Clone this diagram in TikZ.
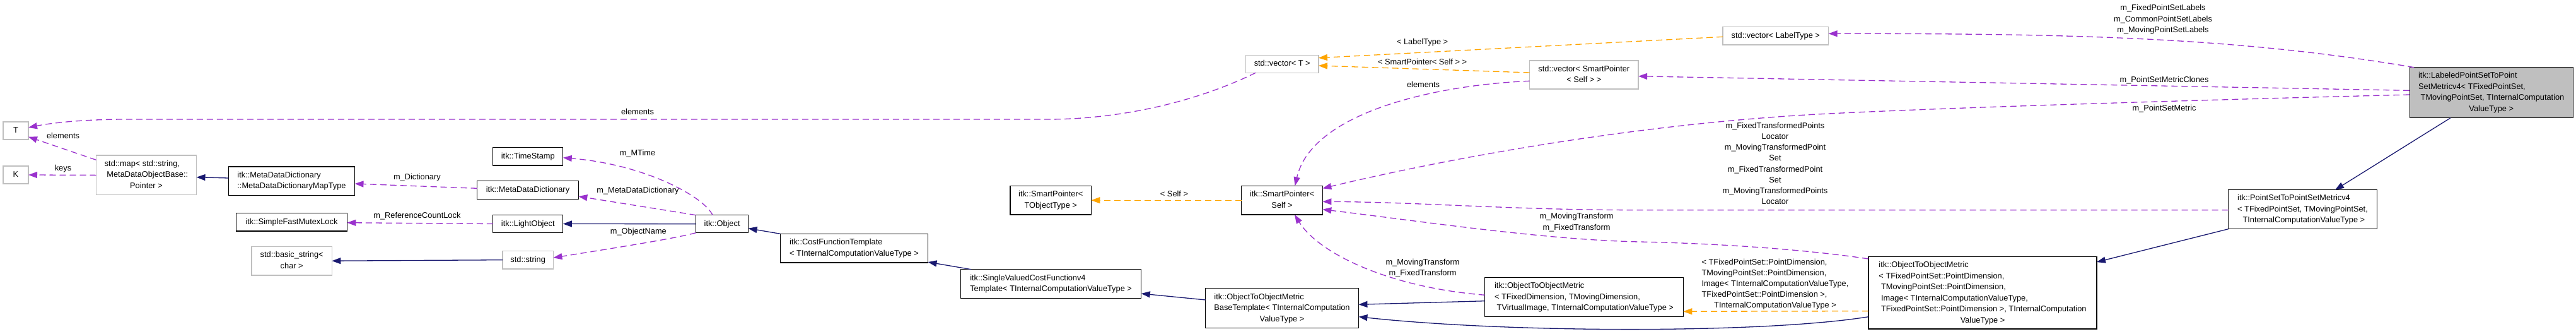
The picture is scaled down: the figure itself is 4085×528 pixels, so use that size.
\documentclass[tikz,border=0pt]{standalone}
\usepackage{fontspec}
\setmainfont{Liberation Sans}
\usetikzlibrary{arrows.meta,calc}
\definecolor{dxnavy}{HTML}{191970}
\definecolor{dxpurple}{HTML}{9A32CD}
\definecolor{dxorange}{HTML}{FFA500}
\definecolor{boxgray}{HTML}{BFBFBF}
\newcommand{\dxfont}{\fontsize{12.8}{17.5}\selectfont}
\newcommand{\dxlfont}{\fontsize{12.8}{17.2}\selectfont}
\newcommand{\dxl}[1]{\begin{tabular}{@{}l@{}}#1\end{tabular}}
\newcommand{\dxc}[1]{\begin{tabular}{@{}c@{}}#1\end{tabular}}
\newcommand{\dxm}[1]{\multicolumn{1}{@{}c@{}}{#1}}
\newcommand{\ind}{\hspace*{3.6pt}}
\tikzset{
  box/.style={draw=black, line width=1.3pt, inner sep=0pt, outer sep=0pt, fill=white, font=\dxfont},
  gbox/.style={box, draw=boxgray},
  hbox/.style={box, fill=boxgray},
  lbl/.style={inner sep=0pt, outer sep=0pt, font=\dxlfont},
  tip/.style={-{Triangle[length=14pt,width=10pt]}},
  uses/.style={draw=dxpurple, line width=1.3pt, dash pattern=on 10pt off 6pt, tip},
  tmpl/.style={draw=dxorange, line width=1.3pt, dash pattern=on 10pt off 6pt, tip},
  inh/.style={draw=dxnavy, line width=1.3pt, tip},
}
\begin{document}
\begin{tikzpicture}[x=1pt,y=-1pt]
\fill[white] (0,0) rectangle (4085,528);
\useasboundingbox (0,0) rectangle (4085,528);

% ---------- nodes ----------
\node[gbox,minimum width=40pt,minimum height=28pt] (T) at (25,207) {\dxc{T}};
\node[gbox,minimum width=40pt,minimum height=28pt] (K) at (25,277) {\dxc{K}};
\node[gbox,minimum width=159pt,minimum height=62.7pt] (map) at (232,277.4) {\dxl{std::map< std::string,\\\ind MetaDataObjectBase::\\\dxm{Pointer >}}};
\node[box,minimum width=200pt,minimum height=45.3pt] (mapt) at (462.5,286.7) {\dxl{itk::MetaDataDictionary\\::MetaDataDictionaryMapType}};
\node[box,minimum width=175.7pt,minimum height=28.3pt] (sfml) at (462.5,351.9) {\dxc{itk::SimpleFastMutexLock}};
\node[gbox,minimum width=127.4pt,minimum height=45.7pt] (bstr) at (462.7,413.2) {\dxl{std::basic\_string<\\\dxm{char >}}};
\node[box,minimum width=111pt,minimum height=28.5pt] (ts) at (837.3,247.8) {\dxc{itk::TimeStamp}};
\node[box,minimum width=160.7pt,minimum height=28.6pt] (mdd) at (837,301) {\dxc{itk::MetaDataDictionary}};
\node[box,minimum width=111pt,minimum height=28.4pt] (lo) at (837.3,354.5) {\dxc{itk::LightObject}};
\node[gbox,minimum width=80.4pt,minimum height=28.7pt] (str) at (837.2,411.7) {\dxc{std::string}};
\node[box,minimum width=83pt,minimum height=28pt] (obj) at (1145.1,354.7) {\dxc{itk::Object}};
\node[box,minimum width=234pt,minimum height=45.7pt] (cost) at (1354.5,393.2) {\dxl{itk::CostFunctionTemplate\\< TInternalComputationValueType >}};
\node[box,minimum width=286.4pt,minimum height=45.6pt] (svc) at (1666.6,449.5) {\dxl{itk::SingleValuedCostFunctionv4\\Template< TInternalComputationValueType >}};
\node[box,minimum width=128.4pt,minimum height=45.7pt] (spt) at (1666.2,317.2) {\dxl{itk::SmartPointer<\\\dxm{TObjectType >}}};
\node[box,minimum width=128.6pt,minimum height=45.7pt] (sps) at (2033,317.2) {\dxl{itk::SmartPointer<\\\dxm{Self >}}};
\node[box,minimum width=242.8pt,minimum height=62.6pt] (base) at (2033,488) {\dxl{itk::ObjectToObjectMetric\\BaseTemplate< TInternalComputation\\\dxm{ValueType >}}};
\node[gbox,minimum width=115.3pt,minimum height=28pt] (vt) at (2033.2,101.3) {\dxc{std::vector< T >}};
\node[gbox,minimum width=172.5pt,minimum height=45pt] (vsp) at (2511.8,118.5) {\dxl{std::vector< SmartPointer\\\dxm{< Self > >}}};
\node[gbox,minimum width=167.6pt,minimum height=28.3pt] (vlt) at (2815.8,56.9) {\dxc{std::vector< LabelType >}};
\node[box,minimum width=314.6pt,minimum height=62.4pt] (mid) at (2512,470.5) {\dxl{itk::ObjectToObjectMetric\\< TFixedDimension, TMovingDimension,\\\dxm{\ind TVirtualImage, TInternalComputationValueType >}}};
\node[box,minimum width=361.9pt,minimum height=114.3pt] (big) at (3144,463.9) {\dxl{itk::ObjectToObjectMetric\\< TFixedPointSet::PointDimension,\\\ind TMovingPointSet::PointDimension,\\\ind Image< TInternalComputationValueType,\\\ind TFixedPointSet::PointDimension >, TInternalComputation\\\dxm{ValueType >}}};
\node[box,minimum width=235.8pt,minimum height=62pt] (ps) at (3651.5,331.7) {\dxl{itk::PointSetToPointSetMetricv4\\< TFixedPointSet, TMovingPointSet,\\\dxm{\ind TInternalComputationValueType >}}};
\node[hbox,minimum width=259pt,minimum height=80pt] (lab) at (3950.7,146.7) {\dxl{itk::LabeledPointSetToPoint\\SetMetricv4< TFixedPointSet,\\\ind TMovingPointSet, TInternalComputation\\\dxm{ValueType >}}};

% ---------- edge labels ----------
\node[lbl] (l1) at (100,215.7) {\dxc{elements}};
\node[lbl] (l2) at (100,267.3) {\dxc{keys}};
\node[lbl] (l3) at (661.4,280.7) {\dxc{m\_Dictionary}};
\node[lbl] (l4) at (661.4,342.3) {\dxc{m\_ReferenceCountLock}};
\node[lbl] (l5) at (1011,243) {\dxc{m\_MTime}};
\node[lbl] (l6) at (1011.4,302.3) {\dxc{m\_MetaDataDictionary}};
\node[lbl] (l7) at (1012.4,367.3) {\dxc{m\_ObjectName}};
\node[lbl] (l8) at (1011,178) {\dxc{elements}};
\node[lbl] (l9) at (1862,308) {\dxc{< Self >}};
\node[lbl] (l10) at (2255.6,66.7) {\dxc{< LabelType >}};
\node[lbl] (l11) at (2255.6,99) {\dxc{< SmartPointer< Self > >}};
\node[lbl] (l12) at (2257,135) {\dxc{elements}};
\node[lbl] (l13) at (2256,424.7) {\dxc{m\_MovingTransform\\m\_FixedTransform}};
\node[lbl] (l14) at (2500,352) {\dxc{m\_MovingTransform\\m\_FixedTransform}};
\node[lbl] (l15) at (2815,260) {\dxc{m\_FixedTransformedPoints\\Locator\\m\_MovingTransformedPoint\\Set\\m\_FixedTransformedPoint\\Set\\m\_MovingTransformedPoints\\Locator}};
\node[lbl] (l16) at (2815,450) {\dxl{< TFixedPointSet::PointDimension,\\TMovingPointSet::PointDimension,\\Image< TInternalComputationValueType,\\TFixedPointSet::PointDimension >,\\\dxm{TInternalComputationValueType >}}};
\node[lbl] (l17) at (3430,30.7) {\dxc{m\_FixedPointSetLabels\\m\_CommonPointSetLabels\\m\_MovingPointSetLabels}};
\node[lbl] (l18) at (3432,126.7) {\dxc{m\_PointSetMetricClones}};
\node[lbl] (l19) at (3432,172) {\dxc{m\_PointSetMetric}};

% ---------- edges ----------
\draw[inh] ($(mapt.west)+(0,-4.7)$) -- ($(map.east)+(0,3.3)$);
\draw[uses] (map.west) -- (K.east);
\draw[uses] ($(map.north west)+(0,7.3)$) -- ($(T.east)+(0,9.7)$);
\draw[uses] ($(mdd.west)+(0,-2.7)$) -- ($(mapt.east)+(0,4.3)$);
\draw[uses] (lo.west) -- ($(sfml.east)+(0,0.8)$);
\draw[inh] (str.west) -- (bstr.east);
\draw[inh] (obj.west) -- (lo.east);
\draw[uses] ($(obj.north)+(-15,0)$) .. controls (1115,310) and (1020,260) .. ($(ts.east)+(0,2)$);
\draw[uses] (obj.north west) -- ($(mdd.east)+(0,10)$);
\draw[uses] (obj.south west) .. controls (1070,378) and (960,395) .. ($(str.east)+(0,-3.4)$);
\draw[inh] (cost.north west) -- ($(obj.east)+(0,7)$);
\draw[inh] ($(svc.north west)+(16.6,0)$) -- ($(cost.south east)+(0,-1)$);
\draw[inh] ($(base.west)+(0,-13)$) -- ($(svc.east)+(0,15.5)$);
\draw[inh] ($(mid.west)+(0,6.2)$) -- ($(base.east)+(0,-5.7)$);
\draw[inh] ($(big.west)+(0,37.8)$) .. controls (2800,528) and (2400,528) .. ($(base.east)+(0,13.7)$);
\draw[tmpl] ($(big.west)+(0,28.8)$) -- ($(mid.east)+(0,22.8)$);
\draw[inh] (ps.south west) -- ($(big.north east)+(0,8.3)$);
\draw[inh] ($(lab.south)+(-64.7,0)$) -- ($(ps.north)+(51.5,0)$);
\draw[tmpl] (sps.west) -- (spt.east);
\draw[tmpl] ($(vlt.west)+(0,1.4)$) -- ($(vt.east)+(0,-9.6)$);
\draw[tmpl] ($(vsp.west)+(0,-3.5)$) -- ($(vt.east)+(0,2.7)$);
\draw[uses] ($(vt.south west)+(15.5,0)$) .. controls (1900,160) and (1780,189) .. (1660,189) -- (200,189) .. controls (130,189) and (80,195) .. ($(T.east)+(0,-5)$);
\draw[uses] ($(vsp.west)+(0,9.8)$) .. controls (2270,135) and (2080,180) .. ($(sps.north)+(20.5,0)$);
\draw[uses] ($(lab.west)+(0,3.3)$) .. controls (3500,158) and (3100,170) .. (2900,180) .. controls (2600,195) and (2300,250) .. ($(sps.north east)+(0,4)$);
\draw[uses] ($(ps.west)+(0,1)$) -- (2600,332.7) .. controls (2400,332.7) and (2250,320) .. ($(sps.east)+(0,2.1)$);
\draw[uses] ($(big.north west)+(0,3.3)$) .. controls (2850,393) and (2700,385) .. (2600,383) .. controls (2450,380) and (2250,350) .. ($(sps.east)+(0,14.5)$);
\draw[uses] ($(mid.west)+(0,-3.2)$) .. controls (2200,455) and (2090,400) .. ($(sps.south)+(20,0)$);
\draw[uses] ($(lab.north west)+(7,0)$) .. controls (3550,60) and (3300,53) .. ($(vlt.east)+(0,-3.6)$);
\draw[uses] ($(lab.west)+(0,-3.4)$) -- ($(vsp.east)+(0,2.2)$);
\end{tikzpicture}
\end{document}
